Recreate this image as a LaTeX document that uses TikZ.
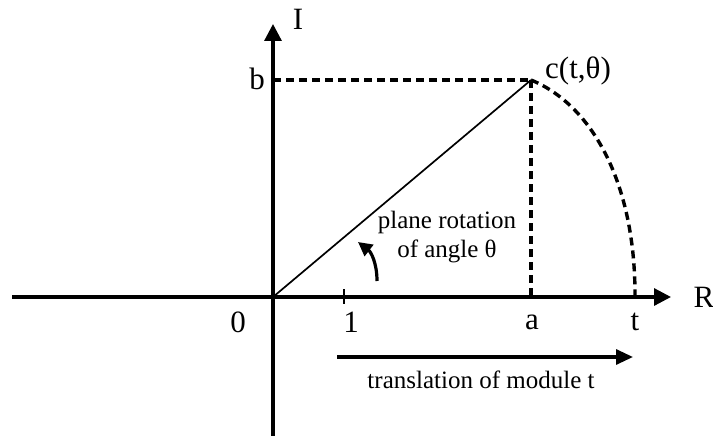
\documentclass[tikz,border=0pt]{standalone}
\usepackage{fontspec}
\setmainfont{Liberation Serif}
\usetikzlibrary{arrows.meta}
\begin{document}
\begin{tikzpicture}[x=1pt,y=-1pt,
  axisline/.style={line width=3.2pt, -{Triangle[length=17pt,width=17pt]}},
  dsh/.style={line width=3.4pt, dash pattern=on 8pt off 5pt},
  lbl/.style={font=\fontsize{31}{33}\selectfont, inner sep=0pt},
  txt/.style={font=\fontsize{25}{29}\selectfont, inner sep=0pt, align=center}]
\useasboundingbox (0,0) rectangle (713,436);
\coordinate (O) at (273,297);
\coordinate (xl) at (12,297);
\coordinate (xr) at (671,297);
\coordinate (yb) at (273,436);
\coordinate (yt) at (273,24);
\coordinate (C) at (531,80);
\coordinate (B) at (273,80);
\coordinate (A) at (531,297);
\coordinate (T) at (635,299);
\coordinate (T1a) at (344,289);
\coordinate (T1b) at (344,304);
\coordinate (tr1) at (337,357);
\coordinate (tr2) at (633,357);
\coordinate (rot1) at (377,281);
\coordinate (rot2) at (358,242);

% axes
\draw[line width=3.2pt] (xl) -- (O);
\draw[axisline] (O) -- (xr);
\draw[axisline] (yb) -- (yt);
\draw[line width=1.6pt] (T1a) -- (T1b);

% dashed construction
\draw[dsh] (B) -- (C);
\draw[dsh] (C) -- (A);
\draw[dsh] (C) .. controls (590,104) and (636,180) .. (T);

% radius
\draw[line width=1.7pt] (O) -- (C);

% rotation arrow
\draw[line width=3.2pt, -{Triangle[length=14pt,width=14pt]}] (rot1) .. controls (377,263) and (371,252) .. (rot2);

% translation arrow
\draw[line width=3.2pt, -{Triangle[length=17pt,width=15pt]}] (tr1) -- (tr2);

% labels
\node[lbl] (lI) at (298,19) {I};
\node[lbl] (lR) at (704,297) {R};
\node[lbl] (lb) at (257,79) {b};
\node[lbl, anchor=west] (lc) at (545,71) {c(t,θ)};
\node[lbl] (l0) at (238,322) {0};
\node[lbl] (l1) at (351,322) {1};
\node[lbl] (la) at (532,322) {a};
\node[lbl] (lt) at (635,322) {t};
\node[txt] (rottxt) at (447,237) {plane rotation\\of angle θ};
\node[txt] (trtxt) at (481,380) {translation of module t};
\end{tikzpicture}
\end{document}
